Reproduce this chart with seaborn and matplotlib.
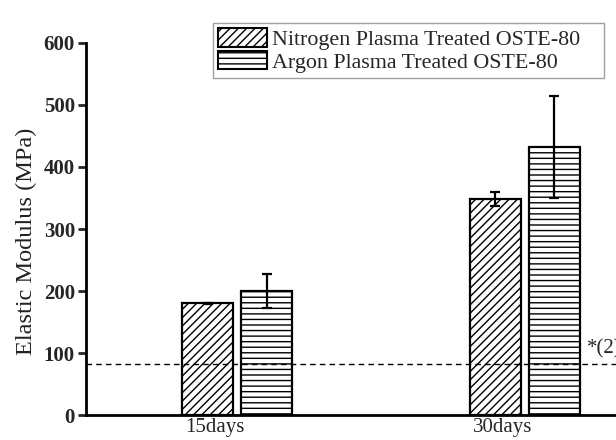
import matplotlib
matplotlib.use("Agg")
import matplotlib.pyplot as plt
import matplotlib.transforms as mtransforms
from matplotlib.patches import Patch
import seaborn as sns
import pandas as pd

# Elastic modulus of plasma-treated OSTE-80 after ageing
periods = ["15days", "30days"]
treatments = ["Nitrogen Plasma Treated OSTE-80", "Argon Plasma Treated OSTE-80"]
nitrogen_mean = [180, 348]
nitrogen_err = [1, 11]
argon_mean = [200, 432]
argon_err = [27, 82]
reference_modulus = 82
reference_label = "*(2)"
y_ticks = [0, 100, 200, 300, 400, 500, 600]

df = pd.DataFrame({
    "period": periods * 2,
    "treatment": [treatments[0]] * 2 + [treatments[1]] * 2,
    "modulus": nitrogen_mean + argon_mean,
})
errors = {treatments[0]: nitrogen_err, treatments[1]: argon_err}
hatches = {treatments[0]: "////", treatments[1]: "---"}

sns.set_theme(style="ticks")
plt.rcParams["font.family"] = ["Liberation Serif", "DejaVu Serif"]
plt.rcParams["hatch.linewidth"] = 1.0

fig = plt.figure(figsize=(6.16, 4.4), dpi=100)
ax = fig.add_axes([86 / 616, 1 - 415 / 440, 590 / 616, 372 / 440])

sns.barplot(data=df, x="period", y="modulus", hue="treatment",
            hue_order=treatments, order=periods, errorbar=None,
            width=0.41, gap=0.14, palette=["white", "white"],
            edgecolor="black", linewidth=1.6, legend=False, ax=ax)

for cont, name in zip(ax.containers, treatments):
    xs = []
    for bar in cont:
        bar.set_hatch(hatches[name])
        bar.set_facecolor("white")
        bar.set_edgecolor("black")
        xs.append(bar.get_x() + bar.get_width() / 2)
    vals = [b.get_height() for b in cont]
    ax.errorbar(xs, vals, yerr=errors[name], fmt="none", ecolor="black",
                elinewidth=1.6, capsize=3.5, capthick=1.6, zorder=5)

ax.axhline(reference_modulus, color="black", linestyle=(0, (4, 3)),
           linewidth=1.0, zorder=6)
ax.text(1.215, reference_modulus + 9, reference_label, fontsize=15,
        ha="left", va="bottom", clip_on=False)

ax.set_xlim(-0.525, 1.525)
ax.set_ylim(0, 600)
ax.set_yticks(y_ticks)
ax.set_yticklabels([str(t) for t in y_ticks], fontweight="bold", fontsize=15)
ax.tick_params(axis="y", length=6, width=2, pad=2)
ax.tick_params(axis="x", length=0, labelsize=15, pad=2)
shift = mtransforms.ScaledTranslation(-0.22, 0, fig.dpi_scale_trans)
for lab in ax.get_xticklabels():
    lab.set_transform(lab.get_transform() + shift)
ax.set_xlabel("")
ax.set_ylabel("Elastic Modulus (MPa)", fontsize=17.5, labelpad=5,
              y=0.468, color="#222222")
sns.despine(ax=ax)
for s in ["left", "bottom"]:
    ax.spines[s].set_linewidth(2)
    ax.spines[s].set_color("black")

handles = [Patch(facecolor="white", edgecolor="black", hatch=hatches[t],
                 linewidth=1.5, label=t) for t in treatments]
leg_left, leg_right, leg_top, leg_bottom = 213, 604, 23, 78
leg = fig.legend(handles=handles, loc="upper left", mode="expand",
                 bbox_to_anchor=(leg_left / 616, 1 - leg_bottom / 440,
                                 (leg_right - leg_left) / 616,
                                 (leg_bottom - leg_top) / 440),
                 borderaxespad=0, fontsize=15.8, frameon=True, fancybox=False,
                 handlelength=2.2, handleheight=0.9, handletextpad=0.25,
                 labelspacing=0.05, borderpad=0.25)
leg.get_frame().set_edgecolor("#888888")
leg.get_frame().set_linewidth(1.0)

fig.savefig("out.png", dpi=100)
